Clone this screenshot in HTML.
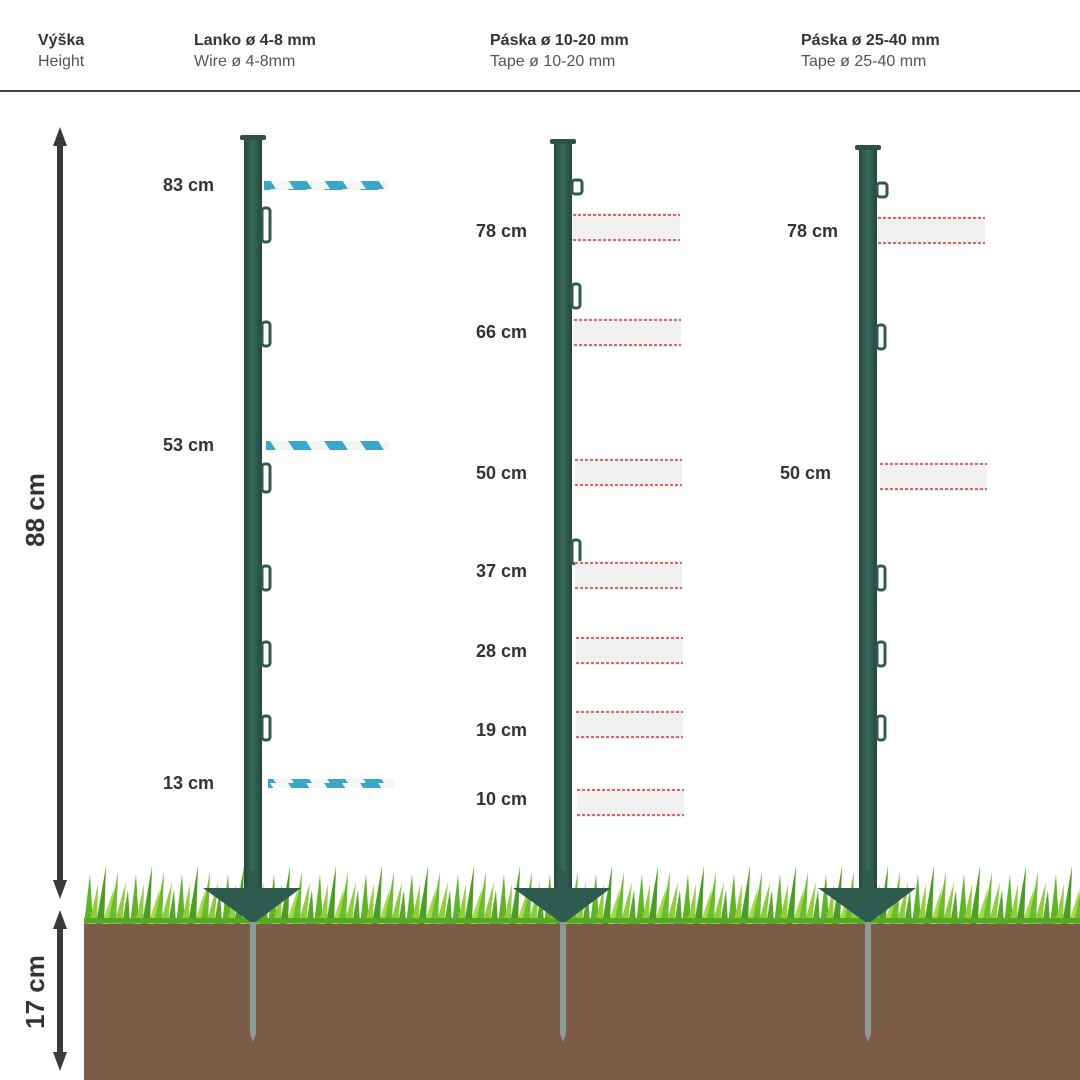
<!DOCTYPE html>
<html><head><meta charset="utf-8"><style>
html,body{margin:0;padding:0;background:#fff}
svg{display:block}
text{font-family:"Liberation Sans",sans-serif}
</style></head><body>
<svg width="1080" height="1080" viewBox="0 0 1080 1080" xmlns="http://www.w3.org/2000/svg">
<defs>
<pattern id="grass" x="84" y="860" width="46" height="64" patternUnits="userSpaceOnUse">
<path d="M0 64 L6 14 L9 64Z" fill="#5fb52a"/>
<path d="M5 64 L14 24 L13 64Z" fill="#8fd03a"/>
<path d="M12 64 L22 6 L20 64Z" fill="#4a9e22"/>
<path d="M18 64 L30 28 L26 64Z" fill="#a6d94a"/>
<path d="M24 64 L34 12 L32 64Z" fill="#6bbd30"/>
<path d="M30 64 L42 22 L38 64Z" fill="#8ccc3c"/>
<path d="M38 64 L44 30 L46 64Z" fill="#55a826"/>
</pattern>
<linearGradient id="post" x1="0" x2="1"><stop offset="0" stop-color="#244a40"/><stop offset=".5" stop-color="#3a6a5d"/><stop offset="1" stop-color="#22463c"/></linearGradient>
<g id="B">
<rect x="-5" y="870" width="10" height="20" fill="#2e5a4e"/>
<path d="M-50 888 L48 888 L0 924Z" fill="#2f5a4f"/>
<rect x="-3" y="922" width="6" height="112" fill="#8c9a96"/>
<path d="M-3 1034 L0 1042 L3 1034Z" fill="#8c9a96"/>
</g>
<g id="T">
<rect x="0" y="0" width="107" height="29" fill="#f0f0f0"/>
<line x1="0" y1="2" x2="107" y2="2" stroke="#d43a3a" stroke-width="1.5" stroke-dasharray="3 2"/>
<line x1="0" y1="27" x2="107" y2="27" stroke="#d43a3a" stroke-width="1.5" stroke-dasharray="3 2"/>
</g>
<pattern id="rope" width="36" height="9" patternUnits="userSpaceOnUse"><rect width="36" height="9" fill="#f4f6f6"/><path d="M0 0 L18 0 L24 9 L6 9Z" fill="#3aa6c8"/></pattern>
</defs>

<text x="38" y="45" font-size="16" font-weight="bold" fill="#333">Výška</text>
<text x="38" y="66" font-size="16" fill="#555">Height</text>
<text x="194" y="45" font-size="16" font-weight="bold" fill="#333">Lanko ø 4-8 mm</text>
<text x="194" y="66" font-size="16" fill="#555">Wire ø 4-8mm</text>
<text x="490" y="45" font-size="16" font-weight="bold" fill="#333">Páska ø 10-20 mm</text>
<text x="490" y="66" font-size="16" fill="#555">Tape ø 10-20 mm</text>
<text x="801" y="45" font-size="16" font-weight="bold" fill="#333">Páska ø 25-40 mm</text>
<text x="801" y="66" font-size="16" fill="#555">Tape ø 25-40 mm</text>
<line x1="0" y1="91" x2="1080" y2="91" stroke="#444" stroke-width="2"/>

<rect x="84" y="923" width="996" height="157" fill="#7a5c47"/>
<rect x="84" y="860" width="996" height="64" fill="url(#grass)"/>
<rect x="84" y="918" width="996" height="5" fill="#5aa626"/>

<line x1="60" y1="140" x2="60" y2="885" stroke="#3a3a3a" stroke-width="6"/>
<path d="M53 146 L60 127 L67 146Z" fill="#3a3a3a"/>
<path d="M53 880 L60 899 L67 880Z" fill="#3a3a3a"/>
<line x1="60" y1="922" x2="60" y2="1060" stroke="#3a3a3a" stroke-width="6"/>
<path d="M53 929 L60 910 L67 929Z" fill="#3a3a3a"/>
<path d="M53 1052 L60 1071 L67 1052Z" fill="#3a3a3a"/>
<text transform="translate(44,510) rotate(-90)" text-anchor="middle" font-size="26" font-weight="bold" fill="#333">88 cm</text>
<text transform="translate(44,992) rotate(-90)" text-anchor="middle" font-size="26" font-weight="bold" fill="#333">17 cm</text>

<!-- posts -->
<rect x="244" y="138" width="18" height="752" fill="url(#post)"/>
<rect x="240" y="135" width="26" height="5" rx="2" fill="#2a5247"/>
<use href="#B" x="253" y="0"/>
<rect x="554" y="142" width="18" height="748" fill="url(#post)"/>
<rect x="550" y="139" width="26" height="5" rx="2" fill="#2a5247"/>
<use href="#B" x="563" y="0"/>
<rect x="859" y="148" width="18" height="742" fill="url(#post)"/>
<rect x="855" y="145" width="26" height="5" rx="2" fill="#2a5247"/>
<use href="#B" x="868" y="0"/>

<g fill="none" stroke="#2f5a4f" stroke-width="3">
<rect x="262" y="208" width="8" height="34" rx="3"/><rect x="262" y="322" width="8" height="24" rx="3"/><rect x="262" y="464" width="8" height="28" rx="3"/><rect x="262" y="566" width="8" height="24" rx="3"/><rect x="262" y="642" width="8" height="24" rx="3"/><rect x="262" y="716" width="8" height="24" rx="3"/>
<rect x="572" y="180" width="10" height="14" rx="3"/><rect x="572" y="284" width="8" height="24" rx="3"/><rect x="572" y="540" width="8" height="24" rx="3"/>
<rect x="877" y="183" width="10" height="14" rx="3"/><rect x="877" y="325" width="8" height="24" rx="3"/><rect x="877" y="566" width="8" height="24" rx="3"/><rect x="877" y="642" width="8" height="24" rx="3"/><rect x="877" y="716" width="8" height="24" rx="3"/>
</g>

<rect x="264" y="181" width="124" height="9" fill="url(#rope)"/>
<rect x="266" y="441" width="124" height="9" fill="url(#rope)"/>
<rect x="268" y="779" width="126" height="9" fill="url(#rope)"/>

<use href="#T" x="573" y="213"/>
<use href="#T" x="574" y="318"/>
<use href="#T" x="575" y="458"/>
<use href="#T" x="575" y="561"/>
<use href="#T" x="576" y="636"/>
<use href="#T" x="576" y="710"/>
<use href="#T" x="577" y="788"/>
<use href="#T" x="878" y="216"/>
<use href="#T" x="880" y="462"/>

<g font-size="18" font-weight="bold" fill="#333">
<text x="163" y="191">83 cm</text>
<text x="163" y="451">53 cm</text>
<text x="163" y="789">13 cm</text>
<text x="476" y="237">78 cm</text>
<text x="476" y="338">66 cm</text>
<text x="476" y="479">50 cm</text>
<text x="476" y="577">37 cm</text>
<text x="476" y="657">28 cm</text>
<text x="476" y="736">19 cm</text>
<text x="476" y="805">10 cm</text>
<text x="787" y="237">78 cm</text>
<text x="780" y="479">50 cm</text>
</g>
</svg>
</body></html>
